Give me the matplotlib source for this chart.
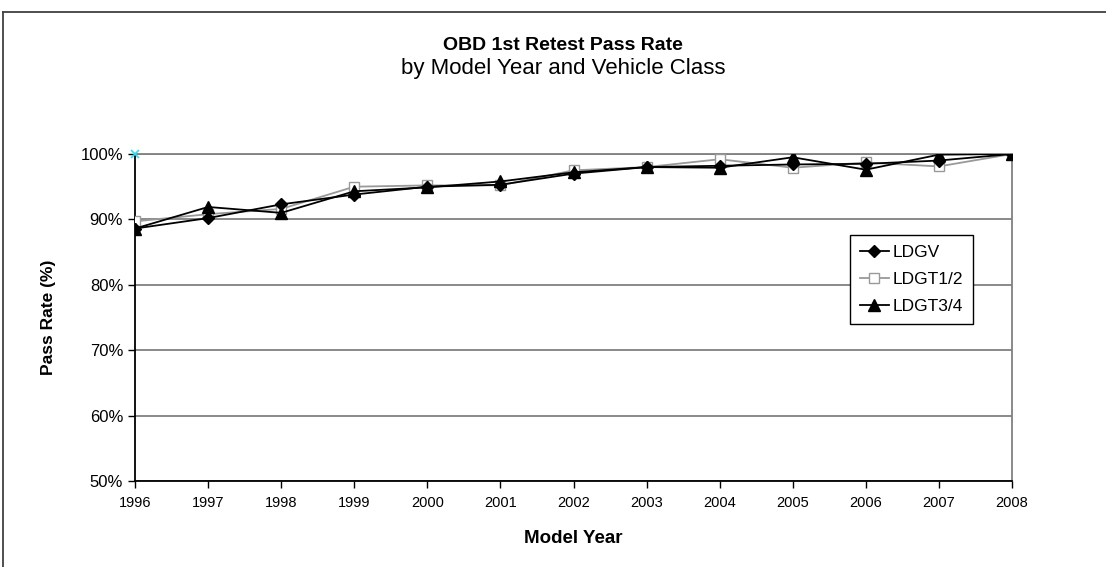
import numpy as np
import matplotlib
matplotlib.use("Agg")
import matplotlib.pyplot as plt
from matplotlib.lines import Line2D
from matplotlib.ticker import FuncFormatter

plt.rcParams['font.family'] = ['Liberation Sans', 'DejaVu Sans']

# pass rate (%) by model year
years = [1996, 1997, 1998, 1999, 2000, 2001, 2002, 2003, 2004, 2005, 2006, 2007, 2008]
ldgv = [88.6, 90.2, 92.3, 93.8, 95.0, 95.3, 97.0, 98.0, 98.2, 98.4, 98.5, 99.0, 100.0]
ldgt12 = [89.7, 90.8, 91.6, 95.0, 95.2, 95.2, 97.5, 98.0, 99.2, 97.9, 98.7, 98.1, 100.0]
ldgt34 = [88.6, 91.9, 91.0, 94.3, 94.9, 95.8, 97.2, 98.0, 97.9, 99.5, 97.6, 99.9, 100.0]
stray_x = [1996]
stray_y = [100.0]

yticks = [50, 60, 70, 80, 90, 100]

fig = plt.figure(figsize=(11.06, 5.67), dpi=100)
ax = fig.add_axes([0.1221, 0.1517, 0.915 - 0.1221, 0.7284 - 0.1517])

x = np.arange(len(years))
ax.plot(x, ldgv, color='black', lw=1.3, marker='D', ms=6.5, mfc='black', mec='black',
        label='LDGV', zorder=4)
ax.plot(x, ldgt12, color='#999999', lw=1.3, marker='s', ms=7.5, mfc='white', mec='#999999',
        label='LDGT1/2', zorder=3)
ax.plot(x, ldgt34, color='black', lw=1.3, marker='^', ms=8.5, mfc='black', mec='black',
        label='LDGT3/4', zorder=5)
ax.plot(np.array(stray_x) - years[0], stray_y, linestyle='none', marker='x', ms=6,
        mew=1.2, color='#33ddee', zorder=6, clip_on=False)

ax.set_xlim(0, len(years) - 1)
ax.set_ylim(50, 100)
ax.set_xticks(x)
ax.set_xticklabels([str(y) for y in years], fontsize=10.5)
ax.set_yticks(yticks)
ax.yaxis.set_major_formatter(FuncFormatter(lambda v, p: '%d%%' % v))
ax.tick_params(axis='y', labelsize=12, length=5, direction='out', width=1)
ax.tick_params(axis='x', length=5, direction='out', width=1, pad=6)

ax.grid(axis='y', color='#808080', lw=1.3)
ax.set_axisbelow(True)
for side in ['top', 'right']:
    ax.spines[side].set_color('#808080')
    ax.spines[side].set_linewidth(1.3)
for side in ['left', 'bottom']:
    ax.spines[side].set_color('black')
    ax.spines[side].set_linewidth(1.3)

ax.set_ylabel('Pass Rate (%)', fontsize=12.5, fontweight='bold', labelpad=18)
ax.set_xlabel('Model Year', fontsize=13.5, fontweight='bold', labelpad=14)

fig.text(0.509, 0.919, 'OBD 1st Retest Pass Rate', ha='center', va='center',
         fontsize=14, fontweight='bold')
fig.text(0.509, 0.879, 'by Model Year and Vehicle Class', ha='center', va='center',
         fontsize=16)

leg = ax.legend(loc='upper left', bbox_to_anchor=(0.8155, 0.752), fontsize=12.5,
                frameon=True, fancybox=False, borderpad=0.55, labelspacing=0.7,
                handlelength=1.7, handletextpad=0.2, borderaxespad=0)
leg.get_frame().set_edgecolor('black')
leg.get_frame().set_linewidth(1.0)
leg.get_frame().set_alpha(1)

# outer chart border (top and left edges visible)
fig.add_artist(Line2D([3 / 1106, 1], [1 - 12 / 567, 1 - 12 / 567], color='#404040', lw=1.3))
fig.add_artist(Line2D([3 / 1106, 3 / 1106], [0, 1 - 12 / 567], color='#404040', lw=1.3))

fig.savefig('out.png', dpi=100)
